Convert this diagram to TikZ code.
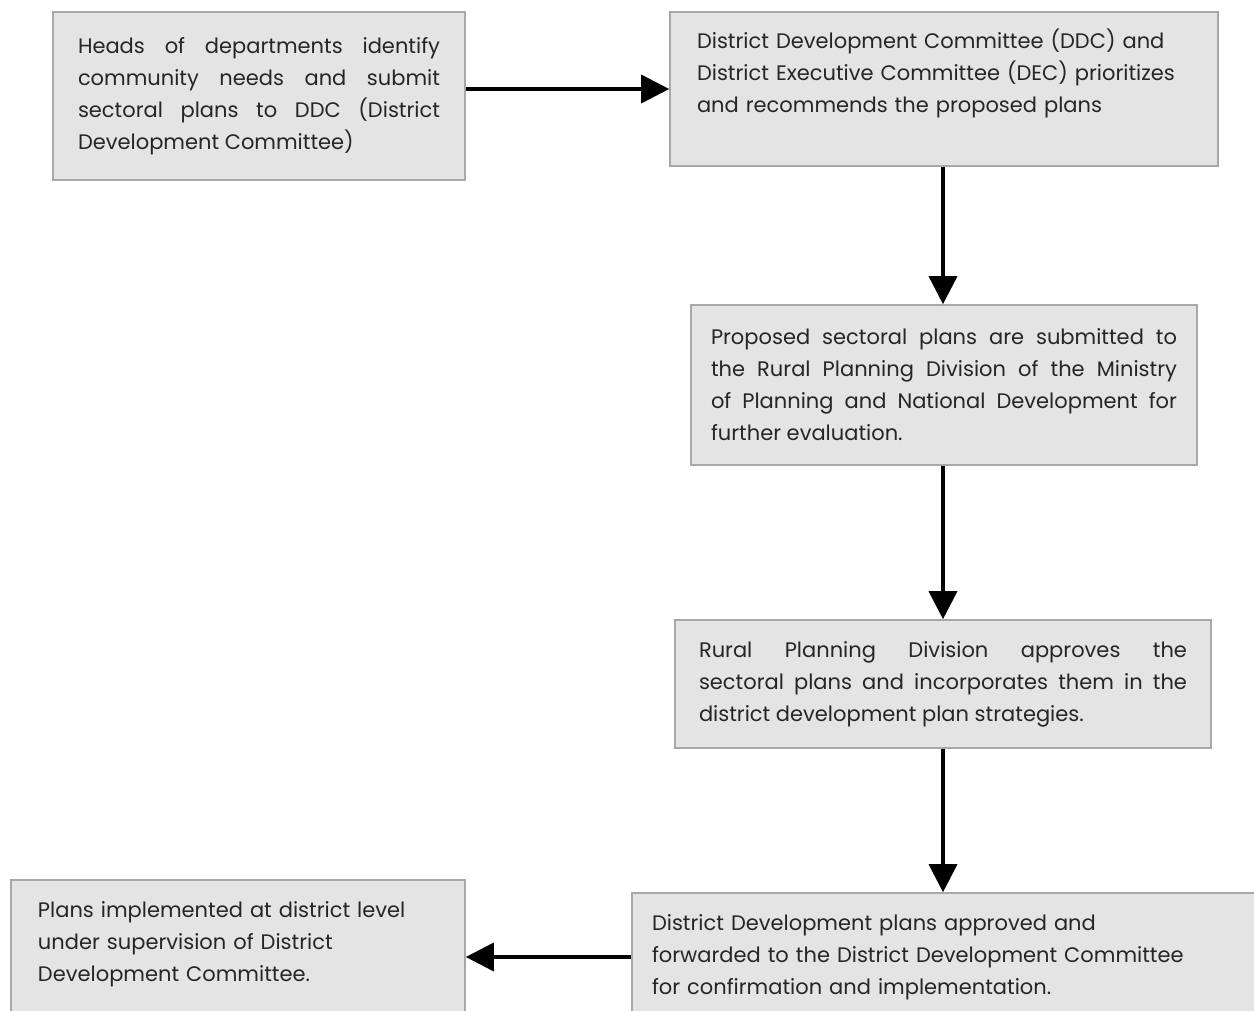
\documentclass[tikz,border=0pt]{standalone}
\usepackage{fontspec}
\setmainfont{Poppins}
\usepackage{tikz}
\usetikzlibrary{arrows.meta}
\usetikzlibrary{positioning}

\definecolor{boxfill}{RGB}{228,228,228}
\definecolor{boxline}{RGB}{168,168,168}

\begin{document}
\begin{tikzpicture}
    [
    x=0.5pt, y=-0.5pt,
    stage/.style={rectangle, draw=boxline, fill=boxfill, line width=0.8pt,
      inner sep=0pt, text=black!85,
      font=\fontsize{10.5}{16}\selectfont},
    flow/.style={line width=1.8pt, -{Triangle[length=14pt,width=14pt]}},
    ]
    \useasboundingbox (0,0) rectangle (1254,1011);

    \node (heads) at (259,96) [stage, minimum width=206pt, minimum height=84pt,
      text width=181pt, align=justify]
      {Heads of departments identify\linebreak community needs and submit\linebreak
       sectoral plans to DDC (District\linebreak Development Committee)};
    \node (ddc) at (944,89) [stage, minimum width=274pt, minimum height=77pt,
      text width=247pt, align=left, text depth=50pt]
      {District Development Committee (DDC) and\\
       District Executive Committee (DEC) prioritizes\\
       and recommends the proposed plans};
    \node (rpd) at (944,385) [stage, minimum width=253pt, minimum height=80pt,
      text width=233pt, align=justify]
      {Proposed sectoral plans are submitted to\linebreak the Rural Planning Division of the Ministry\linebreak
       of Planning and National Development for\linebreak further evaluation.};
    \node (approve) at (943,684) [stage, minimum width=268pt, minimum height=64pt,
      text width=244pt, align=justify]
      {Rural Planning Division approves the\linebreak sectoral plans and incorporates them in the\linebreak
       district development plan strategies.};
    \node (forward) at (952,957) [stage, minimum width=320pt, minimum height=64pt,
      text width=300pt, align=left]
      {District Development plans approved and\\
       forwarded to the District Development Committee\\
       for confirmation and implementation.};
    \node (impl) at (238,957) [stage, minimum width=227pt, minimum height=77pt,
      text width=200pt, align=left, text depth=47pt]
      {Plans implemented at district level\\
       under supervision of District\\
       Development Committee.};

    \draw [flow] (heads.east |- ddc.west) to (ddc.west);
    \draw [flow] (ddc.south -| approve.south) to (rpd.north -| approve.south);
    \draw [flow] (rpd.south -| approve.south) to (approve.north);
    \draw [flow] (approve.south) to (approve.south |- forward.north);
    \draw [flow] (forward.west) to (impl.east);
\end{tikzpicture}
\end{document}
